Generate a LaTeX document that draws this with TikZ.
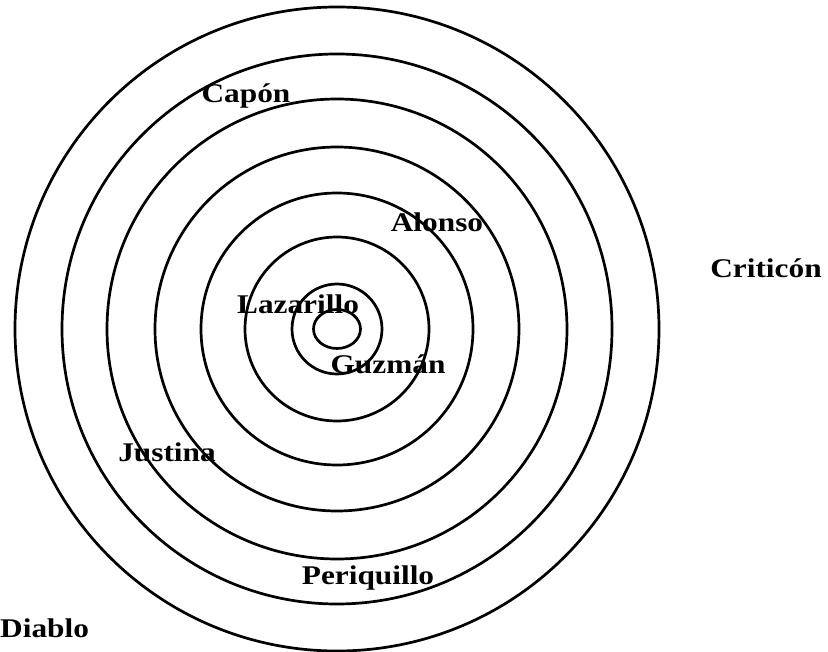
\documentclass[tikz,border=0pt]{standalone}
\usepackage{fontspec}
\setmainfont{Liberation Serif}
\newcommand{\wide}[1]{\scalebox{1.16}[1]{#1}}
\begin{document}
\begin{tikzpicture}[x=1pt,y=-1pt,
  ring/.style={line width=2.7pt},
  lbl/.style={inner sep=0pt,font=\bfseries\fontsize{27}{27}\selectfont}]
\useasboundingbox (0,0) rectangle (828,652);
\coordinate (C) at (337,329);
\draw[ring] (C) ellipse[x radius=23.5,y radius=19.5];
\foreach \r in {45,92,136,182,230,275,322}{
  \draw[ring] (C) circle[radius=\r];
}
\node[lbl] (capon) at (246,96) {\wide{Capón}};
\node[lbl] (alonso) at (437,222) {\wide{Alonso}};
\node[lbl] (criticon) at (766,268) {\wide{Criticón}};
\node[lbl] (lazarillo) at (298,304) {\wide{Lazarillo}};
\node[lbl] (guzman) at (388,364) {\wide{Guzmán}};
\node[lbl] (justina) at (167,452) {\wide{Justina}};
\node[lbl] (periquillo) at (368,578) {\wide{Periquillo}};
\node[lbl,anchor=west] (diablo) at (0,628) {\wide{Diablo}};
\end{tikzpicture}
\end{document}
